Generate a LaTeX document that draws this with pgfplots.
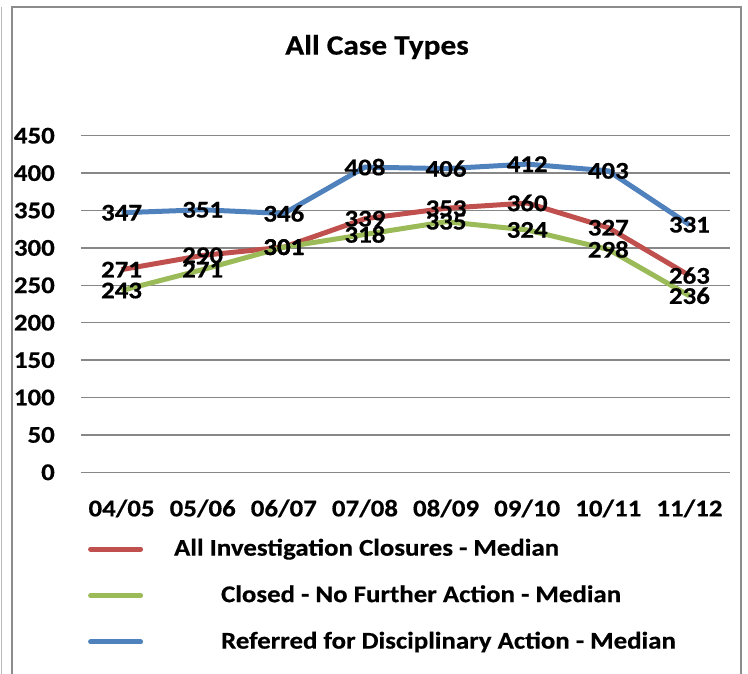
\documentclass[border=0pt]{standalone}
\usepackage{pgfplots}
\pgfplotsset{compat=1.18}
\usepackage{fontspec}
\setmainfont{Carlito}[FakeStretch=1.12, BoldFeatures={FakeBold=0.5}]
\definecolor{cred}{HTML}{C0504D}
\definecolor{cgreen}{HTML}{9BBB59}
\definecolor{cblue}{HTML}{4F81BD}
\definecolor{cgrid}{HTML}{878787}
\definecolor{cframe}{HTML}{8C8C8C}
\begin{document}
\bfseries\fontsize{24}{28}\selectfont
\begin{tikzpicture}[x=1pt,y=1pt]
\useasboundingbox (-81,-200.7) rectangle (667,472.3);
\draw[cframe, line width=1.5pt] (-69,-205) -- (-69,465.3) -- (660,465.3) -- (660,-205);
\draw[cframe!60, line width=1pt] (-79,-205) -- (-79,465.3);
\node[font=\bfseries\fontsize{28}{32}\selectfont] at (296,425.3) {All Case Types};
\begin{axis}[
  at={(0pt,0pt)}, anchor=south west,
  scale only axis, width=649pt, height=336.6pt,
  xmin=-0.5, xmax=7.5, ymin=0, ymax=450,
  ytick={0,50,...,450},
  xtick={0,...,7},
  xticklabels={04/05,05/06,06/07,07/08,08/09,09/10,10/11,11/12},
  axis line style={draw=none},
  major tick length=0pt,
  ymajorgrids, grid style={cgrid, line width=1.5pt},
  /pgf/number format/assume math mode=true,
  yticklabel style={anchor=east, inner sep=0pt, xshift=-26pt},
  xticklabel style={anchor=north, inner sep=0pt, yshift=-27pt},
  clip=false,
  nodes near coords,
  every node near coord/.append style={anchor=center, black, inner sep=0pt, /pgf/number format/assume math mode=true},
  legend style={at={(axis description cs:0.006,-0.185)}, anchor=north west, draw=none, fill=none, row sep=22pt, legend cell align=left},
  legend image code/.code={\draw[#1, line cap=round] (0pt,0pt) -- (50pt,0pt);},
  legend columns=1,
]
\addplot[cred, line width=5pt] coordinates {(0,271) (1,290) (2,301) (3,339) (4,353) (5,360) (6,327) (7,263)};
\addlegendentry{\hspace*{29pt}All Investigation Closures - Median}
\addplot[cgreen, line width=5pt] coordinates {(0,243) (1,271) (2,301) (3,318) (4,335) (5,324) (6,298) (7,236)};
\addlegendentry{\hspace*{76pt}Closed - No Further Action - Median}
\addplot[cblue, line width=5pt] coordinates {(0,347) (1,351) (2,346) (3,408) (4,406) (5,412) (6,403) (7,331)};
\addlegendentry{\hspace*{76pt}Referred for Disciplinary Action - Median}
\end{axis}
\end{tikzpicture}
\end{document}
